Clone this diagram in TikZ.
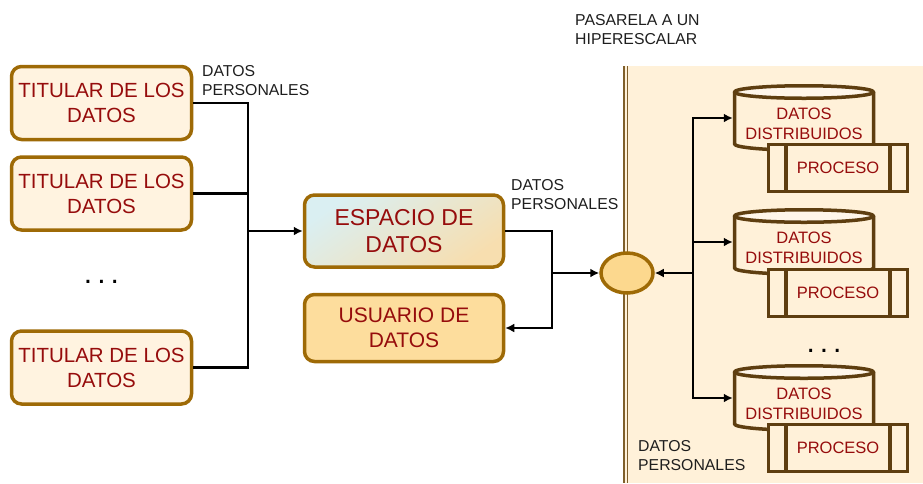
\documentclass[tikz,border=0pt]{standalone}
\usepackage{fontspec}
\setmainfont{Liberation Sans}
\usepackage{tikz}
\usetikzlibrary{arrows.meta,calc,positioning,shapes}
\definecolor{boxbrown}{RGB}{158,106,6}
\definecolor{dbbrown}{RGB}{94,62,16}
\definecolor{datared}{RGB}{150,12,12}
\definecolor{titfill}{RGB}{255,243,224}
\definecolor{espblue}{RGB}{218,239,242}
\definecolor{esppeach}{RGB}{247,222,175}
\definecolor{usufill}{RGB}{253,221,157}
\definecolor{gwfill}{RGB}{252,216,142}
\definecolor{panelfill}{RGB}{255,241,217}
\definecolor{dbtop}{RGB}{255,246,234}
\definecolor{wallbrown}{RGB}{128,96,44}
\definecolor{lbl}{RGB}{30,30,30}
\tikzstyle{holder}=[draw=boxbrown, line width=3.5pt, rounded corners=10pt, fill=titfill, minimum width=180pt, minimum height=73pt, align=center, text=datared, font=\fontsize{20.5}{25}\selectfont]
\tikzstyle{space}=[holder, minimum width=199pt, minimum height=72pt, top color=espblue, bottom color=esppeach, shading angle=35, font=\fontsize{23}{27}\selectfont]
\tikzstyle{user}=[holder, minimum width=199pt, minimum height=67pt, fill=usufill, font=\fontsize{21}{25}\selectfont]
\tikzstyle{gateway}=[draw=boxbrown, line width=3.5pt, ellipse, fill=gwfill, minimum width=52pt, minimum height=40pt]
\tikzstyle{store}=[line width=3.5pt, minimum width=139pt, minimum height=64.5pt, inner sep=0pt, align=center, text=datared, text height=42pt, text depth=0pt, font=\fontsize{16.5}{20}\selectfont]
\tikzstyle{process}=[draw=dbbrown, line width=3.5pt, fill=panelfill, minimum width=139pt, minimum height=47pt, text=datared, font=\fontsize{16.5}{20}\selectfont,
  path picture={\draw[dbbrown, line width=3.5pt] ([xshift=17.5pt]path picture bounding box.north west) -- ([xshift=17.5pt]path picture bounding box.south west);
    \draw[dbbrown, line width=3.5pt] ([xshift=-17.5pt]path picture bounding box.north east) -- ([xshift=-17.5pt]path picture bounding box.south east);}]
\tikzstyle{note}=[text=lbl, align=left, inner sep=0pt, font=\fontsize{15.8}{19}\selectfont]
\tikzstyle{dots}=[inner sep=0pt, font=\fontsize{30}{30}\selectfont]
\tikzstyle{link}=[line width=2.5pt, black]
% cilindro de datos, centrado en #1
\newcommand{\drumshape}[1]{%
  \begin{scope}[shift={#1}, line width=3.5pt, line join=round]
    \fill[panelfill] (-69.5pt,26pt) -- (-69.5pt,-26pt) arc[start angle=180, end angle=360, x radius=69.5pt, y radius=6.25pt] -- (69.5pt,26pt) -- cycle;
    \draw[dbbrown] (-69.5pt,26pt) -- (-69.5pt,-26pt) arc[start angle=180, end angle=360, x radius=69.5pt, y radius=6.25pt] -- (69.5pt,26pt);
    \draw[dbbrown, fill=dbtop] (0pt,26pt) ellipse [x radius=69.5pt, y radius=6.25pt];
  \end{scope}}

\begin{document}
\begin{tikzpicture}[x=1pt, y=-1pt, >={Latex[length=9pt,width=9pt]}, node distance=90pt]
    \useasboundingbox (0,0) rectangle (923,483);
    % hiperescalar
    \fill[panelfill] (628,66) rectangle (923,483);
    \draw[wallbrown, line width=1.5pt, double=panelfill, double distance=2pt] (625.5,66) -- (625.5,483);
    %
    \node (tit1) [holder] at (101.5,103) {TITULAR DE LOS\\DATOS};
    \node (tit2) [holder, below of=tit1, node distance=90.5pt] {TITULAR DE LOS\\DATOS};
    \node (dotsL) [dots, below of=tit2, node distance=88.5pt] {.\hspace{5pt}.\hspace{5pt}.};
    \node (tit3) [holder, below of=tit2, node distance=174pt] {TITULAR DE LOS\\DATOS};
    \node (esp) [space] at (404,231) {ESPACIO DE\\DATOS};
    \node (usu) [user, below of=esp, node distance=97pt] {USUARIO DE\\DATOS};
    \node (gw) [gateway] at (627,273) {};
    %
    \drumshape{(804,118)}
    \node (db1) [store] at (804,118) {DATOS\\DISTRIBUIDOS};
    \node (p1) [process, below of=db1, node distance=50pt, xshift=34pt] {PROCESO};
    \drumshape{(804,242)}
    \node (db2) [store, below of=db1, node distance=124pt] {DATOS\\DISTRIBUIDOS};
    \node (p2) [process, below of=db2, node distance=51pt, xshift=34pt] {PROCESO};
    \node (dotsR) [dots, below of=p2, node distance=58pt, xshift=-14pt] {.\hspace{5pt}.\hspace{5pt}.};
    \drumshape{(804,398)}
    \node (db3) [store, below of=db2, node distance=156pt] {DATOS\\DISTRIBUIDOS};
    \node (p3) [process, below of=db3, node distance=50pt, xshift=34pt] {PROCESO};
    %
    \node (pers1) [note, anchor=west] at (202,81) {DATOS\\PERSONALES};
    \node (pers2) [note, anchor=west] at (511,194.5) {DATOS\\PERSONALES};
    \node (pers3) [note, anchor=west] at (638,455.5) {DATOS\\PERSONALES};
    \node (pasarela) [note, anchor=west] at (575,30) {PASARELA A UN\\HIPERESCALAR};

    \coordinate (jin) at (248,231);
    \draw [link] (tit1.east) -| (jin);
    \draw [link] (tit3.east) -| (jin);
    \draw [link] (tit2.east) -- (tit2.east -| jin);
    \draw [link, ->] (jin) -- (esp.west);
    \coordinate (jmid) at (552,273);
    \draw [link] (esp.east) -| (jmid);
    \draw [link, ->] (jmid) |- (usu.east);
    \draw [link, ->] (jmid) -- (gw.west);
    \coordinate (jout) at (693,273);
    \draw [link, ->] (jout) -- (gw.east);
    \draw [link, ->] (jout) |- (db1.west);
    \draw [link, ->] (jout) |- (db3.west);
    \draw [link, ->] (db2.west -| jout) -- (db2.west);
\end{tikzpicture}
\end{document}
